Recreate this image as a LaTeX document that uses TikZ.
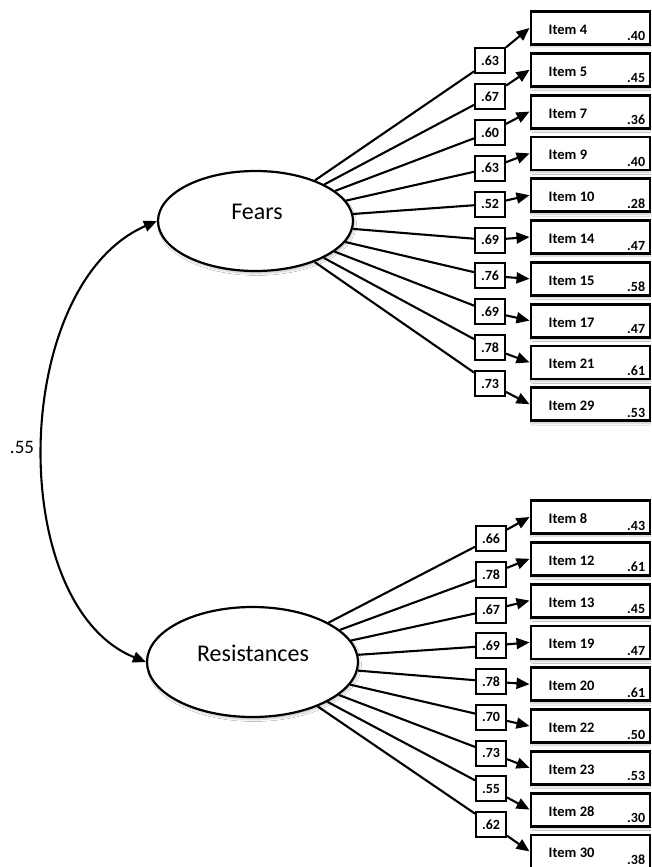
\documentclass[tikz,border=0pt]{standalone}
\usepackage{fontspec}
\setmainfont{Carlito}
\usetikzlibrary{arrows.meta,shapes.geometric,shadows.blur,calc}
\begin{document}
\begin{tikzpicture}[x=1pt,y=-1pt,
  shad/.style={blur shadow={shadow xshift=1.5pt,shadow yshift=-2.5pt,shadow opacity=22,shadow blur steps=6}},
  latent/.style={ellipse,draw,line width=2.2pt,fill=white,inner sep=0pt,shad},
  latenttxt/.style={font=\fontsize{24}{24}\selectfont,inner sep=0pt},
  itembox/.style={rectangle,draw,line width=2.8pt,fill=white,minimum width=119pt,minimum height=33pt,inner sep=0pt,anchor=west,shad},
  itemtxt/.style={font=\fontsize{14.5}{14.5}\selectfont\bfseries,inner sep=0pt,anchor=base west},
  valtxt/.style={font=\fontsize{14}{14}\selectfont\bfseries,inner sep=0pt,anchor=base east},
  lbl/.style={rectangle,draw,line width=2pt,fill=white,minimum width=30pt,minimum height=25pt,inner sep=0pt,font=\fontsize{14}{14}\selectfont\bfseries},
  conn/.style={line width=2.1pt},
  arr/.style={line width=2.1pt,-{Triangle[length=13pt,width=11pt]}},
  dbl/.style={line width=2.1pt,{Triangle[length=13pt,width=11pt]}-{Triangle[length=13pt,width=11pt]}}
]
\clip (0,0) rectangle (651,867);
\fill[white] (0,0) rectangle (651,867);

% latent variables
\node[latent,minimum width=195pt,minimum height=100pt] (fears) at (255.5,221) {};
\node[latenttxt] (fearst) at (257,212) {Fears};
\node[latent,minimum width=211pt,minimum height=110pt] (res) at (252.5,662) {};
\node[latenttxt] (rest) at (253,653) {Resistances};

% Fears indicators
\foreach \n/\v/\l [count=\k from 0] in {4/.40/.63,5/.45/.67,7/.36/.60,9/.40/.63,10/.28/.52,14/.47/.69,15/.58/.76,17/.47/.69,21/.61/.78,29/.53/.73}{
  \node[itembox] (f\k) at (529.5,{28+41.8*\k}) {};
  \node[itemtxt] (ft\k) at ($(f\k.west)+(19,6.5)$) {Item \n};
  \node[valtxt] (fv\k) at ($(f\k.east)+(-6,13)$) {\v};
  \node[lbl] (fl\k) at (490,{60.5+35.9*\k}) {\l};
  \draw[conn] (fears) -- (fl\k);
  \draw[arr] (fl\k) -- (f\k.west);
}

% Resistances indicators
\foreach \n/\v/\l [count=\k from 0] in {8/.43/.66,12/.61/.78,13/.45/.67,19/.47/.69,20/.61/.78,22/.50/.70,23/.53/.73,28/.30/.55,30/.38/.62}{
  \node[itembox] (r\k) at (529.5,{517+41.8*\k}) {};
  \node[itemtxt] (rt\k) at ($(r\k.west)+(19,6.5)$) {Item \n};
  \node[valtxt] (rv\k) at ($(r\k.east)+(-6,13)$) {\v};
  \node[lbl] (rl\k) at (491,{538.5+35.75*\k}) {\l};
  \draw[conn] (res) -- (rl\k);
  \draw[arr] (rl\k) -- (r\k.west);
}

% correlation
\draw[dbl] (fears.west) .. controls (10,285) and (5,605) .. (res.west);
\node[font=\fontsize{19}{19}\selectfont,inner sep=0pt] (corr) at (22,447) {.55};
\end{tikzpicture}
\end{document}
